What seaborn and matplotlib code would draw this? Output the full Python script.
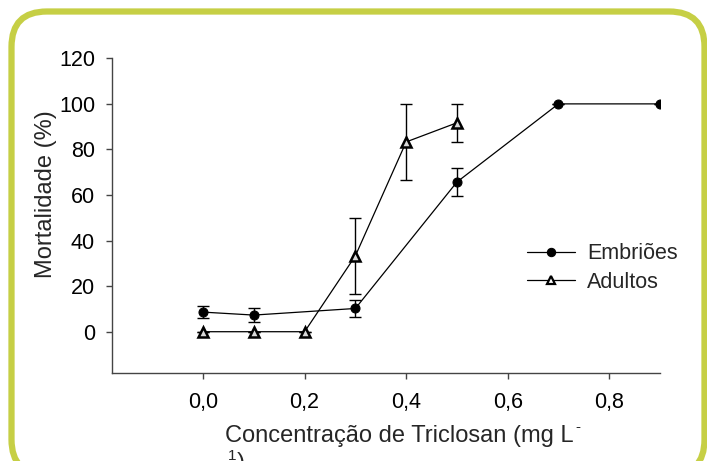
import seaborn as sns
import matplotlib.pyplot as plt
import numpy as np
import pandas as pd
from matplotlib.patches import FancyBboxPatch
from matplotlib.ticker import FuncFormatter

sns.set_theme(style='ticks')
plt.rcParams['font.family'] = ['Liberation Sans', 'DejaVu Sans']

# dados
conc_emb = [0.0, 0.1, 0.3, 0.5, 0.7, 0.9]
mort_emb = [8.6, 7.3, 10.2, 65.7, 100.0, 100.0]
err_emb = [2.5, 3.2, 3.7, 6.2, 0.0, 0.0]

conc_adu = [0.0, 0.1, 0.2, 0.3, 0.4, 0.5]
mort_adu = [0.0, 0.0, 0.0, 33.3, 83.3, 91.7]
err_adu = [0.0, 0.0, 0.0, 16.7, 16.7, 8.3]

df = pd.concat([
    pd.DataFrame({'conc': conc_emb, 'mort': mort_emb, 'err': err_emb, 'grupo': 'Embriões'}),
    pd.DataFrame({'conc': conc_adu, 'mort': mort_adu, 'err': err_adu, 'grupo': 'Adultos'}),
])

fig = plt.figure(figsize=(7.07, 4.61), dpi=100)
ax = fig.add_axes([0.158, 0.1915, 0.7755, 0.682])

# moldura arredondada
x0, x1 = 11.5 / 707, 704.5 / 707
y1 = 1 - 11.5 / 461
borda = FancyBboxPatch((x0, -0.03), x1 - x0, y1 + 0.03,
                       boxstyle='round,pad=0,rounding_size=0.05',
                       transform=fig.transFigure, fill=False,
                       edgecolor='#C6CF45', linewidth=4.5, zorder=-10, mutation_aspect=707 / 461)
fig.patches.append(borda)

for g, d in df.groupby('grupo', sort=False):
    ax.errorbar(d['conc'], d['mort'], yerr=d['err'], fmt='none', ecolor='black',
                elinewidth=1, capsize=4, capthick=1, zorder=2)

sns.lineplot(data=df, x='conc', y='mort', hue='grupo', style='grupo',
             palette=['black', 'black'], markers={'Embriões': 'o', 'Adultos': '^'},
             dashes=False, linewidth=0.9, ax=ax, zorder=3)

# ajustar marcadores
for line in ax.get_lines():
    if line.get_marker() == 'o':
        line.set_markersize(6.5)
        line.set_markerfacecolor('black')
        line.set_markeredgecolor('black')
    elif line.get_marker() == '^':
        line.set_markersize(7)
        line.set_markerfacecolor('#d8d8d8')
        line.set_markeredgecolor('black')
        line.set_markeredgewidth(1.8)

leg = ax.legend(loc='center left', bbox_to_anchor=(0.757, 0.333), frameon=False,
                fontsize=15.5, handlelength=2.25, handletextpad=0.55, labelspacing=0.36,
                borderpad=0, borderaxespad=0)
for h in leg.legend_handles:
    h.set_markersize(6)
    if h.get_marker() == '^':
        h.set_markeredgewidth(1.6)
        h.set_markerfacecolor('white')

ax.set_xlim(-0.18, 0.9)
ax.set_ylim(-18, 120)
ax.set_xticks([0.0, 0.2, 0.4, 0.6, 0.8])
ax.set_yticks([0, 20, 40, 60, 80, 100, 120])
ax.xaxis.set_major_formatter(FuncFormatter(lambda v, p: f'{v:.1f}'.replace('.', ',')))
ax.tick_params(labelsize=15.5, length=4, width=1, color='#444444', colors='black')
ax.tick_params(axis='x', pad=10)
ax.tick_params(axis='y', pad=8)
for s in ['top', 'right']:
    ax.spines[s].set_visible(False)
for s in ['left', 'bottom']:
    ax.spines[s].set_color('#444444')
    ax.spines[s].set_linewidth(1)

ax.set_ylabel('Mortalidade (%)', fontsize=17)
ax.yaxis.set_label_coords(-0.1, 0.568)
ax.set_xlabel('')

# rótulo do eixo x quebrado em duas linhas, como no original
t = fig.text(225 / 707, 1 - 442 / 461, 'Concentração de Triclosan (mg L',
             fontsize=17, ha='left', va='baseline')
r = fig.canvas.get_renderer()
bb = t.get_window_extent(r).transformed(fig.transFigure.inverted())
fig.text(bb.x1 + 2 / 707, 1 - 427 / 461, '-', fontsize=11, ha='left', va='center')
t1 = fig.text(228 / 707, 1 - 449 / 461, '1', fontsize=11, ha='left', va='top')
bb1 = t1.get_window_extent(r).transformed(fig.transFigure.inverted())
fig.text(bb1.x1, 1 - 452 / 461, ')', fontsize=17, ha='left', va='top')

plt.savefig('out.png', dpi=100)
